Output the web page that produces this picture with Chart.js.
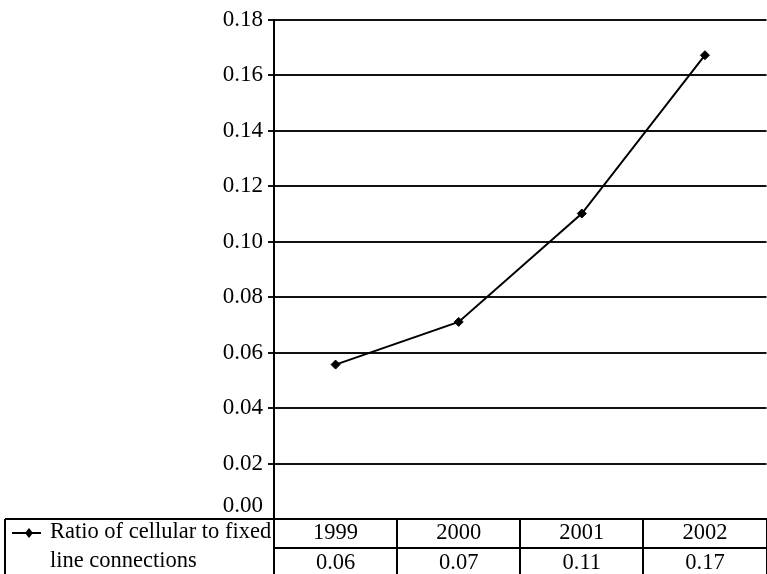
<!DOCTYPE html>
<html>
<head>
<meta charset="utf-8">
<script src="https://cdn.jsdelivr.net/npm/chart.js@4/dist/chart.umd.min.js"></script>
<style>
  html, body { margin: 0; padding: 0; background: #fff; overflow: hidden; width: 767px; height: 574px; }
  canvas { display: block; }
</style>
</head>
<body>
<canvas id="chart" width="772" height="574"></canvas>
<script>
// Years shown along the data table
const years = ['1999', '2000', '2001', '2002'];
// Ratio of cellular to fixed line connections per year
const ratioValues = [0.0557, 0.0711, 0.1102, 0.1673];
// Series name, wrapped over two rows in the table's legend cell
const seriesLines = ['Ratio of cellular to fixed', 'line connections'];
// Value axis range and step
const yMin = 0;
const yMax = 0.18;
const yStep = 0.02;

const FONT = "'Liberation Serif', 'Times New Roman', serif";
const FONT_SIZE = 23;
const TABLE_FONT_SIZE = 22.5;

const fmt = (v) => Number(v).toFixed(2);

// Draws the data table under the plot: legend cell, year row and value row
const dataTablePlugin = {
  id: 'dataTable',
  afterDraw(chart) {
    const ctx = chart.ctx;
    const area = chart.chartArea;
    const xs = chart.scales.x;
    const ys = chart.scales.y;
    const n = years.length;
    const colW = (area.right - area.left) / n;
    const top = area.bottom;
    const rowH = 29;
    const bottom = chart.height + 2;
    const leftEdge = 5;

    ctx.save();
    ctx.strokeStyle = '#000';
    ctx.lineWidth = 2;
    ctx.beginPath();
    // outer top and left borders
    ctx.moveTo(leftEdge, top); ctx.lineTo(chart.width, top);
    ctx.moveTo(leftEdge, top); ctx.lineTo(leftEdge, bottom);
    // row divider across the year columns
    ctx.moveTo(area.left, top + rowH); ctx.lineTo(chart.width, top + rowH);
    // column dividers
    for (let i = 0; i <= n; i++) {
      const x = Math.round(area.left + i * colW);
      ctx.moveTo(x, top); ctx.lineTo(x, bottom);
    }
    ctx.stroke();

    // legend marker
    const my = top + 14;
    ctx.beginPath();
    ctx.moveTo(12, my); ctx.lineTo(41, my);
    ctx.stroke();
    ctx.fillStyle = '#000';
    ctx.beginPath();
    ctx.moveTo(29, my - 5); ctx.lineTo(33, my); ctx.lineTo(29, my + 5); ctx.lineTo(25, my);
    ctx.closePath();
    ctx.fill();

    // zero label of the value axis, lifted above the table border
    ctx.font = FONT_SIZE + 'px ' + FONT;
    ctx.textBaseline = 'middle';
    ctx.textAlign = 'right';
    ctx.fillText(fmt(yMin), area.left - 11, ys.getPixelForValue(yMin) - 13);

    ctx.font = TABLE_FONT_SIZE + 'px ' + FONT;
    ctx.textAlign = 'left';
    ctx.fillText(seriesLines[0], 50, top + 13);
    ctx.fillText(seriesLines[1], 50, top + 42);

    ctx.textAlign = 'center';
    for (let i = 0; i < n; i++) {
      const cx = xs.getPixelForValue(i);
      ctx.fillText(years[i], cx, top + 14);
      ctx.fillText(fmt(ratioValues[i]), cx, top + 44);
    }
    ctx.restore();
  }
};

new Chart(document.getElementById('chart'), {
  type: 'line',
  data: {
    labels: years,
    datasets: [{
      label: seriesLines.join(' '),
      data: ratioValues,
      borderColor: '#000',
      backgroundColor: '#000',
      borderWidth: 2,
      tension: 0,
      pointStyle: 'rectRot',
      pointRadius: 4.5,
      pointBackgroundColor: '#000',
      pointBorderColor: '#000',
      pointBorderWidth: 1
    }]
  },
  options: {
    responsive: false,
    maintainAspectRatio: false,
    animation: false,
    devicePixelRatio: 1,
    layout: { padding: { top: 20, bottom: 55, left: 0, right: 1 } },
    plugins: {
      legend: { display: false },
      tooltip: { enabled: false }
    },
    scales: {
      x: {
        type: 'category',
        offset: true,
        display: false
      },
      y: {
        min: yMin,
        max: yMax,
        afterFit(scale) { scale.width = 274; },
        ticks: {
          stepSize: yStep,
          padding: 5,
          color: '#000',
          font: { family: FONT, size: FONT_SIZE },
          callback: (v) => (v === yMin ? '' : fmt(v))
        },
        grid: {
          color: (c) => (c.tick && c.tick.value === yMin ? 'rgba(0,0,0,0)' : '#111'),
          lineWidth: 2,
          tickLength: 6,
          tickColor: '#111'
        },
        border: { display: true, color: '#000', width: 2 }
      }
    }
  },
  plugins: [dataTablePlugin]
});
</script>
</body>
</html>
